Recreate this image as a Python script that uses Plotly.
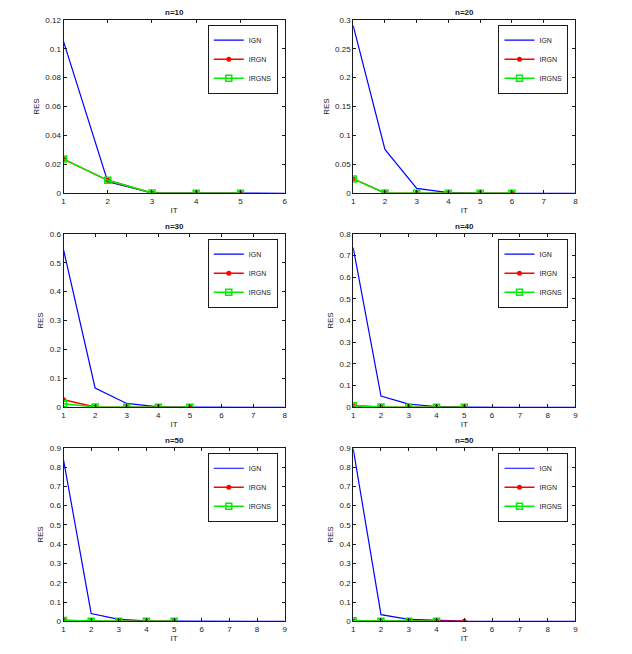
import plotly.graph_objects as go

# ---------------- data ----------------
titles = ["n=10", "n=20", "n=30", "n=40", "n=50", "n=50"]
series_names = ["IGN", "IRGN", "IRGNS"]

ign_10 = [0.105, 0.008, 0.0004, 0.0001, 0.00002, 0.00001]
irgn_10 = [0.0237, 0.0090, 0.0003, 0.0001, 0.00002]
irgns_10 = [0.0237, 0.0090, 0.0003, 0.0001, 0.00002]

ign_20 = [0.29, 0.076, 0.0085, 0.0012, 0.0002, 0.00005, 0.00001, 0.0]
irgn_20 = [0.025, 0.0008, 0.0002, 0.0001, 0.00005, 0.00001]
irgns_20 = [0.025, 0.0008, 0.0002, 0.0001, 0.00005, 0.00001]

ign_30 = [0.545, 0.067, 0.0135, 0.002, 0.0005, 0.0001, 0.00003, 0.00001]
irgn_30 = [0.026, 0.0015, 0.0004, 0.0001, 0.00002]
irgns_30 = [0.0125, 0.001, 0.0003, 0.0001, 0.00002]

ign_40 = [0.736, 0.052, 0.015, 0.004, 0.001, 0.0003, 0.0001, 0.00003, 0.00001]
irgn_40 = [0.008, 0.002, 0.001, 0.0003, 0.0001]
irgns_40 = [0.007, 0.002, 0.001, 0.0003, 0.0001]

ign_50a = [0.838, 0.041, 0.010, 0.003, 0.001, 0.0003, 0.0001, 0.00003, 0.00001]
irgn_50a = [0.006, 0.001, 0.0005, 0.0002, 0.0001]
irgns_50a = [0.005, 0.001, 0.0005, 0.0002, 0.0001]

ign_50b = [0.895, 0.035, 0.010, 0.004, 0.001, 0.0003, 0.0001, 0.00003, 0.00001]
irgn_50b = [0.003, 0.001, 0.0005, 0.0002, 0.0001]
irgns_50b = [0.003, 0.001, 0.0005, 0.0002]

x_max = [6, 8, 8, 9, 9, 9]
y_max = [0.12, 0.3, 0.6, 0.8, 0.9, 0.9]
y_dtick = [0.02, 0.05, 0.1, 0.1, 0.1, 0.1]

panels = [
    (ign_10, irgn_10, irgns_10),
    (ign_20, irgn_20, irgns_20),
    (ign_30, irgn_30, irgns_30),
    (ign_40, irgn_40, irgns_40),
    (ign_50a, irgn_50a, irgns_50a),
    (ign_50b, irgn_50b, irgns_50b),
]

# ---------------- layout geometry ----------------
W, H = 632, 654
col_px = [(62, 285), (354, 578)]
row_px = [(16, 192), (233, 409), (450, 626)]

FONT = "Liberation Sans, Arial, Helvetica, sans-serif"
AXC = "#1a1a1a"

fig = go.Figure()
layout = dict(
    width=W, height=H, margin=dict(l=0, r=0, t=0, b=0),
    paper_bgcolor="white", plot_bgcolor="white",
    font=dict(family=FONT, size=8, color=AXC),
    showlegend=True,
)
annotations = []

for k, (ign, irgn, irgns) in enumerate(panels):
    r, c = divmod(k, 2)
    x0, x1 = col_px[c]
    y0, y1 = row_px[r]
    xd = [x0 / W, x1 / W]
    yd = [1 - y1 / H, 1 - y0 / H]
    sfx = "" if k == 0 else str(k + 1)
    xa, ya = "x" + sfx, "y" + sfx
    leg = "legend" + sfx

    fig.add_trace(go.Scatter(
        x=list(range(1, len(ign) + 1)), y=ign, name=series_names[0],
        mode="lines", line=dict(color="#0000ff", width=1.2),
        xaxis=xa, yaxis=ya, legend=leg))
    fig.add_trace(go.Scatter(
        x=list(range(1, len(irgn) + 1)), y=irgn, name=series_names[1],
        mode="lines+markers", line=dict(color="#ff0000", width=1.5),
        marker=dict(symbol="circle", size=5, color="#ff0000"),
        xaxis=xa, yaxis=ya, legend=leg))
    fig.add_trace(go.Scatter(
        x=list(range(1, len(irgns) + 1)), y=irgns, name=series_names[2],
        mode="lines+markers", line=dict(color="#00ee00", width=1.5),
        marker=dict(symbol="square-open", size=6, color="#00ee00",
                    line=dict(width=1.5)),
        xaxis=xa, yaxis=ya, legend=leg))

    axis_common = dict(
        showline=True, linecolor=AXC, linewidth=1, mirror="ticks",
        ticks="inside", ticklen=3, tickcolor=AXC, showgrid=False,
        zeroline=False, tickfont=dict(size=8, color=AXC, family=FONT),
    )
    layout["xaxis" + sfx] = dict(
        axis_common, domain=xd, range=[1, x_max[k]], dtick=1, tick0=1,
        anchor=ya,
        title=dict(text="IT", font=dict(size=8, color=AXC), standoff=2))
    layout["yaxis" + sfx] = dict(
        axis_common, domain=yd, range=[0, y_max[k]], dtick=y_dtick[k], tick0=0,
        anchor=xa,
        title=dict(text="RES", font=dict(size=8, color=AXC), standoff=4))
    layout[leg] = dict(
        x=(x1 - 7) / W, y=1 - (y0 + 5) / H, xanchor="right", yanchor="top",
        bgcolor="white", bordercolor=AXC, borderwidth=1,
        font=dict(size=7, color=AXC, family=FONT),
        itemwidth=30, tracegroupgap=0,
    )
    annotations.append(dict(
        text="<b>" + titles[k] + "</b>", x=(x0 + x1) / 2 / W,
        y=1 - (y0 - 1) / H, xref="paper", yref="paper",
        xanchor="center", yanchor="bottom", showarrow=False,
        font=dict(size=8, color=AXC, family=FONT)))

layout["annotations"] = annotations
fig.update_layout(**layout)
fig.write_html(
    "out.html",
    config={"displayModeBar": False},
    post_script="document.body.style.margin='0';document.body.style.overflow='hidden';",
)
